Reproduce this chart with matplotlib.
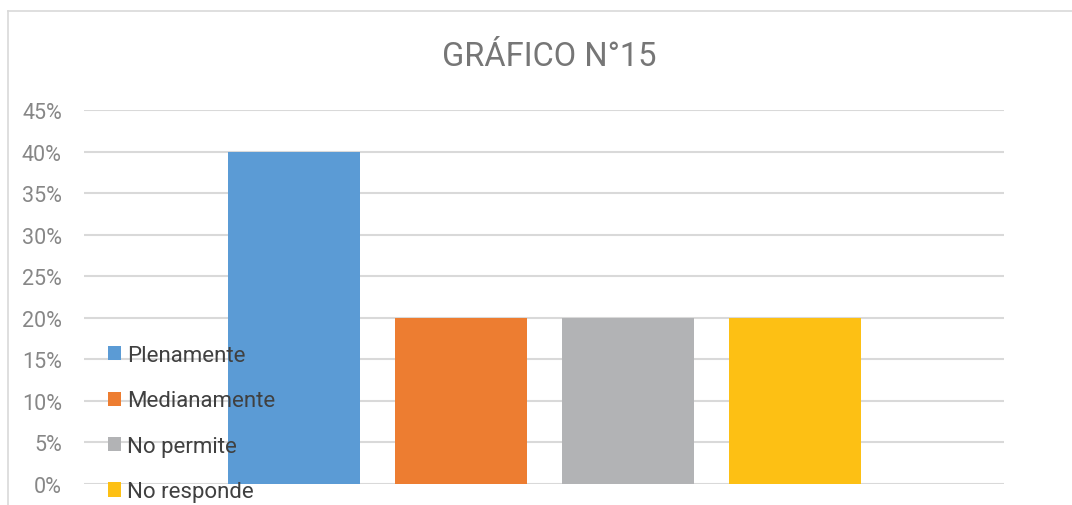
import matplotlib.pyplot as plt
from matplotlib.ticker import PercentFormatter
from matplotlib.lines import Line2D

# data
categorias = ['Plenamente', 'Medianamente', 'No permite', 'No responde']
valores = [0.40, 0.20, 0.20, 0.20]
colores = ['#5b9bd5', '#ed7d31', '#b2b3b5', '#fdc014']
ticks_y = [0.0, 0.05, 0.10, 0.15, 0.20, 0.25, 0.30, 0.35, 0.40, 0.45]

plt.rcParams['font.family'] = ['Liberation Sans Narrow', 'Roboto', 'DejaVu Sans']

fig = plt.figure(figsize=(10.72, 5.06), dpi=100)
W, H = 1072, 506
ax = fig.add_axes([84 / W, (H - 485) / H, (1004 - 84) / W, (485 - 111) / H])

pos = list(range(len(categorias)))
for i, (cat, val, col) in enumerate(zip(categorias, valores, colores)):
    ax.bar(pos[i], val, width=0.79, color=col, label=cat, zorder=3)

ax.set_xlim(-1.257, 4.251)
ax.set_ylim(0, 0.45)
ax.set_yticks(ticks_y)
ax.yaxis.set_major_formatter(PercentFormatter(1.0, decimals=0))
ax.set_xticks([])
ax.grid(axis='y', color='#d9d9d9', linewidth=1.5, zorder=0)
for s in ax.spines.values():
    s.set_visible(False)
ax.tick_params(axis='y', length=0, pad=16, labelsize=15.5, labelcolor='#878787')

# chart frame (left + top edges visible)
fig.add_artist(Line2D([8 / W, 8 / W], [0, (H - 12) / H], color='#d9d9d9', linewidth=1.2))
fig.add_artist(Line2D([8 / W, 1], [(H - 12) / H, (H - 12) / H], color='#d9d9d9', linewidth=1.2))

fig.text(549 / W, (H - 57) / H, 'GRÁFICO N°15', ha='center', va='center',
         fontsize=23.5, color='#767676')

leg = fig.legend(loc='upper left', bbox_to_anchor=(108 / W, (H - 346) / H),
                 frameon=False, fontsize=16, handlelength=0.6, handleheight=0.6,
                 handletextpad=0.25, labelspacing=1.1, borderpad=0, borderaxespad=0)
for t in leg.get_texts():
    t.set_color('#404040')

fig.savefig('out.png', dpi=100)
